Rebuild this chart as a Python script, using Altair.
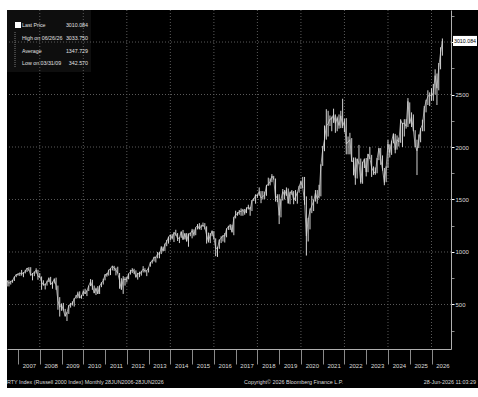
import altair as alt
import pandas as pd

FONT = "Liberation Sans, Arial, sans-serif"

# Russell 2000 monthly bars (Jun 2006 - Jun 2026): close, high, low
c2006 = [724.7, 700.6, 720.5, 725.6, 763.4, 782.6, 787.7]
h2006 = [731, 731, 725, 735, 766, 790, 797]
l2006 = [672, 672, 690, 707, 724, 760, 775]
c2007 = [800.3, 792.7, 800.7, 814.6, 847.2, 833.7, 776.1, 792.9, 805.5, 828.0, 767.8, 766.0]
h2007 = [802, 829, 808, 830, 848, 856, 855, 800, 815, 845, 830, 800]
l2007 = [772, 775, 760, 796, 810, 820, 776, 730, 770, 795, 735, 755]
c2008 = [713.3, 686.2, 688.0, 714.6, 748.3, 689.7, 709.4, 739.5, 679.6, 537.5, 473.1, 499.5]
h2008 = [767, 730, 700, 726, 757, 763, 717, 749, 756, 680, 570, 510]
l2008 = [640, 680, 643, 680, 714, 688, 650, 700, 640, 450, 385, 440]
c2009 = [443.5, 389.0, 422.8, 487.6, 501.6, 508.3, 557.2, 572.1, 604.3, 562.8, 579.7, 625.4]
h2009 = [515, 458, 430, 495, 515, 530, 560, 590, 622, 625, 590, 635]
l2009 = [440, 385, 342.6, 410, 470, 490, 480, 555, 560, 560, 555, 580]
c2010 = [602.0, 628.6, 678.6, 716.6, 669.0, 609.5, 650.9, 602.1, 676.1, 703.4, 727.0, 783.7]
h2010 = [650, 635, 680, 742, 735, 680, 660, 675, 680, 712, 745, 790]
l2010 = [600, 580, 628, 675, 640, 607, 590, 600, 600, 665, 690, 730]
c2011 = [781.3, 823.5, 843.6, 865.3, 848.3, 827.4, 797.0, 726.8, 644.2, 741.7, 737.4, 740.9]
h2011 = [800, 832, 845, 869, 868, 850, 860, 800, 750, 770, 760, 765]
l2011 = [765, 775, 780, 825, 820, 777, 795, 650, 640, 601, 680, 710]
c2012 = [792.8, 810.9, 830.3, 816.9, 761.8, 798.5, 786.9, 812.1, 837.5, 818.7, 821.9, 849.4]
h2012 = [795, 830, 846, 840, 825, 800, 812, 820, 865, 845, 825, 852]
l2012 = [740, 785, 800, 790, 755, 737, 760, 775, 805, 805, 770, 805]
c2013 = [902.1, 911.1, 951.5, 947.5, 984.1, 977.5, 1045.3, 1010.9, 1073.8, 1100.2, 1142.9, 1163.6]
h2013 = [905, 925, 954, 955, 1000, 1000, 1055, 1050, 1080, 1115, 1145, 1165]
l2013 = [860, 890, 910, 900, 940, 940, 980, 1005, 1010, 1055, 1080, 1110]
c2014 = [1130.9, 1183.0, 1173.0, 1126.9, 1134.5, 1193.0, 1120.1, 1174.4, 1101.7, 1173.5, 1173.2, 1204.7]
h2014 = [1170, 1190, 1212, 1180, 1140, 1195, 1210, 1180, 1180, 1175, 1185, 1220]
l2014 = [1120, 1095, 1155, 1105, 1085, 1135, 1115, 1120, 1100, 1050, 1150, 1130]
c2015 = [1165.4, 1233.4, 1252.8, 1220.1, 1246.5, 1253.9, 1238.7, 1159.5, 1100.7, 1161.9, 1198.1, 1135.9]
h2015 = [1215, 1235, 1266, 1275, 1260, 1280, 1275, 1245, 1185, 1180, 1205, 1200]
l2015 = [1150, 1160, 1215, 1215, 1210, 1240, 1215, 1080, 1090, 1085, 1150, 1120]
c2016 = [1035.4, 1033.9, 1114.0, 1130.8, 1154.8, 1151.9, 1219.9, 1239.9, 1251.7, 1191.4, 1322.3, 1357.1]
h2016 = [1130, 1050, 1120, 1150, 1160, 1180, 1225, 1250, 1265, 1260, 1335, 1393]
l2016 = [960, 953, 1030, 1085, 1100, 1090, 1140, 1210, 1210, 1185, 1160, 1320]
c2017 = [1361.8, 1386.7, 1385.9, 1400.4, 1370.2, 1415.4, 1425.1, 1405.3, 1490.9, 1502.8, 1544.1, 1535.5]
h2017 = [1380, 1400, 1415, 1410, 1410, 1425, 1450, 1430, 1495, 1515, 1548, 1550]
l2017 = [1345, 1355, 1345, 1345, 1355, 1370, 1405, 1345, 1390, 1485, 1460, 1515]
c2018 = [1575.0, 1512.5, 1529.4, 1541.9, 1633.6, 1643.1, 1670.8, 1722.6, 1696.6, 1511.4, 1533.3, 1348.6]
h2018 = [1615, 1580, 1580, 1575, 1640, 1708, 1700, 1742, 1725, 1700, 1550, 1550]
l2018 = [1535, 1465, 1500, 1505, 1535, 1630, 1635, 1665, 1690, 1480, 1475, 1266]
c2019 = [1499.4, 1575.6, 1540.2, 1591.2, 1465.5, 1566.6, 1574.6, 1494.8, 1523.4, 1562.5, 1624.5, 1668.5]
h2019 = [1505, 1600, 1590, 1615, 1605, 1575, 1590, 1580, 1590, 1570, 1630, 1680]
l2019 = [1330, 1490, 1500, 1535, 1460, 1455, 1545, 1455, 1485, 1460, 1565, 1600]
c2020 = [1614.1, 1476.4, 1153.1, 1310.7, 1394.0, 1441.4, 1480.4, 1561.9, 1507.7, 1538.5, 1819.8, 1974.9]
h2020 = [1715, 1715, 1530, 1325, 1415, 1535, 1500, 1590, 1590, 1640, 1835, 2010]
l2020 = [1610, 1450, 966, 1100, 1215, 1370, 1390, 1480, 1460, 1510, 1530, 1820]
c2021 = [2073.6, 2201.1, 2220.5, 2266.5, 2269.0, 2310.6, 2226.2, 2273.8, 2204.4, 2297.2, 2198.9, 2245.3]
h2021 = [2205, 2360, 2345, 2300, 2290, 2365, 2310, 2290, 2310, 2345, 2460, 2270]
l2021 = [1960, 2070, 2100, 2200, 2150, 2230, 2135, 2150, 2175, 2180, 2180, 2140]
c2022 = [2028.5, 2048.1, 2070.1, 1864.1, 1864.0, 1708.0, 1885.2, 1844.1, 1664.7, 1846.9, 1886.6, 1761.3]
h2022 = [2275, 2100, 2135, 2085, 1900, 1900, 1890, 2020, 1890, 1860, 1890, 1895]
l2022 = [1930, 1930, 1930, 1860, 1730, 1640, 1700, 1835, 1650, 1650, 1800, 1720]
c2023 = [1931.9, 1897.0, 1802.5, 1769.0, 1749.7, 1888.7, 1986.9, 1888.3, 1785.1, 1662.3, 1809.0, 2027.1]
h2023 = [1935, 2000, 1925, 1815, 1805, 1895, 1990, 1990, 1920, 1800, 1815, 2067]
l2023 = [1760, 1885, 1715, 1735, 1735, 1750, 1875, 1830, 1775, 1636, 1665, 1800]
c2024 = [1947.3, 2054.8, 2124.6, 1973.9, 2070.1, 2047.7, 2254.5, 2218.0, 2230.0, 2196.7, 2434.7, 2230.2]
h2024 = [2025, 2060, 2130, 2125, 2110, 2090, 2265, 2230, 2265, 2265, 2466, 2425]
l2024 = [1900, 1925, 2035, 1940, 1975, 2005, 2040, 2000, 2100, 2175, 2190, 2220]
c2025 = [2287.7, 2163.1, 2011.9, 1964.1, 2066.3, 2175.0, 2211.6, 2366.4, 2436.5, 2479.4, 2500.4, 2481.9]
h2025 = [2330, 2310, 2160, 2070, 2120, 2180, 2260, 2390, 2450, 2540, 2520, 2560]
l2025 = [2190, 2150, 2000, 1733, 1990, 2045, 2150, 2150, 2330, 2400, 2390, 2440]
c2026 = [2520, 2680, 2560, 2760, 2900, 3010.084]
h2026 = [2600, 2740, 2700, 2800, 2950, 3033.75]
l2026 = [2440, 2500, 2400, 2540, 2740, 2870]

closes = c2006 + c2007 + c2008 + c2009 + c2010 + c2011 + c2012 + c2013 + c2014 + c2015 + c2016 + c2017 + c2018 + c2019 + c2020 + c2021 + c2022 + c2023 + c2024 + c2025 + c2026
highs = h2006 + h2007 + h2008 + h2009 + h2010 + h2011 + h2012 + h2013 + h2014 + h2015 + h2016 + h2017 + h2018 + h2019 + h2020 + h2021 + h2022 + h2023 + h2024 + h2025 + h2026
lows = l2006 + l2007 + l2008 + l2009 + l2010 + l2011 + l2012 + l2013 + l2014 + l2015 + l2016 + l2017 + l2018 + l2019 + l2020 + l2021 + l2022 + l2023 + l2024 + l2025 + l2026

months = pd.period_range("2006-06", "2026-06", freq="M")
t = [p.year + p.month / 12 for p in months]

tick_years = list(range(2007, 2027))
grid_years = list(range(2008, 2027, 2))
grid_values = [500, 1000, 1500, 2000, 2500, 3000]
y_ticks = list(range(250, 3301, 250))

legend_labels = ["Last Price", "High on 06/26/26", "Average", "Low on 03/31/09"]
legend_values = ["3010.084", "3033.750", "1347.729", "342.570"]
last_price = 3010.084
footer_left = "RTY Index (Russell 2000 Index) Monthly 28JUN2006-28JUN2026"
footer_mid = "Copyright\u00a9 2026 Bloomberg Finance L.P."
footer_right = "28-Jun-2026 11:03:29"

W, H = 444, 339
df = pd.DataFrame({"t": t, "close": closes, "high": highs, "low": lows})

xs = alt.Scale(domain=[2006.494, 2026.896], nice=False, zero=False)
ys = alt.Scale(domain=[76, 3305], nice=False, zero=False)

x_axis = alt.Axis(values=tick_years, format="d", labelOffset=10.9, grid=False,
                  tickSize=15, tickColor="#8a8a8a", domainColor="#b0b0b0",
                  labelColor="#dcdcdc", labelFontSize=6, labelFont=FONT,
                  labelPadding=-2, title=None, labelFlush=False, labelOverlap=False)
y_axis = alt.Axis(orient="right", values=y_ticks,
                  labelExpr="(datum.value % 500 == 0 && datum.value <= 2500) ? datum.label : ''",
                  format="d", tickSize=3,
                  tickColor={"condition": {"test": "datum.value % 500 == 0", "value": "white"},
                             "value": "#8a8a8a"},
                  domainColor="#b0b0b0", labelColor="#dcdcdc", labelFontSize=6,
                  labelFont=FONT, labelPadding=1, title=None, grid=False,
                  labelOverlap=False)

one = pd.DataFrame({"a": [0]})

# white outer margins
m_top = alt.Chart(one).mark_rect(color="white").encode(
    x=alt.value(-7), x2=alt.value(W + 27), y=alt.value(-10), y2=alt.value(0))
m_left = alt.Chart(one).mark_rect(color="white").encode(
    x=alt.value(-7), x2=alt.value(0), y=alt.value(-10), y2=alt.value(H + 48))
m_bot = alt.Chart(one).mark_rect(color="white").encode(
    x=alt.value(-7), x2=alt.value(W + 27), y=alt.value(H + 39), y2=alt.value(H + 48))

hgrid = alt.Chart(pd.DataFrame({"v": grid_values})).mark_rule(
    color="#5a5a5a", strokeDash=[1, 2], strokeWidth=1).encode(
    y=alt.Y("v:Q", scale=ys, axis=y_axis))
vgrid = alt.Chart(pd.DataFrame({"yr": grid_years})).mark_rule(
    color="#5a5a5a", strokeDash=[1, 2], strokeWidth=1).encode(
    x=alt.X("yr:Q", scale=xs, axis=x_axis))

legend_bg = alt.Chart(one).mark_rect(color="#0e0e0e").encode(
    x=alt.value(0), x2=alt.value(84), y=alt.value(0), y2=alt.value(62))

bars = alt.Chart(df).mark_rule(color="#d2d2d2", strokeWidth=1).encode(
    x=alt.X("t:Q", scale=xs, axis=x_axis),
    y=alt.Y("low:Q", scale=ys, axis=y_axis),
    y2="high:Q")

line = alt.Chart(df).mark_line(color="#d8d8d8", strokeWidth=0.7).encode(
    x=alt.X("t:Q", scale=xs, axis=x_axis), y=alt.Y("close:Q", scale=ys, axis=y_axis))

layers = [m_top, m_left, m_bot, legend_bg, hgrid, vgrid, bars, line]

# legend
layers.append(alt.Chart(one).mark_square(color="white", size=36, opacity=1, filled=True).encode(
    x=alt.value(11), y=alt.value(15)))
layers.append(alt.Chart(one).mark_rule(color="#777777", strokeDash=[1, 1]).encode(
    x=alt.value(8), y=alt.value(22), y2=alt.value(57)))
row_y = [15, 28, 41, 53]
for lab, val, ry in zip(legend_labels, legend_values, row_y):
    layers.append(alt.Chart(one).mark_text(
        text=lab, align="left", baseline="middle", color="#e0e0e0", font=FONT, fontSize=5.3).encode(
        x=alt.value(15), y=alt.value(ry)))
    layers.append(alt.Chart(one).mark_text(
        text=val, align="right", baseline="middle", color="#e0e0e0", font=FONT, fontSize=5.3).encode(
        x=alt.value(81), y=alt.value(ry)))

# last price box
lp = pd.DataFrame({"v": [last_price], "s": ["3010.084"]})
layers.append(alt.Chart(lp).mark_point(
    shape="M-1,-0.42L1,-0.42L1,0.42L-1,0.42Z", filled=True, color="white", size=576, opacity=1).encode(
    x=alt.value(W + 14), y=alt.Y("v:Q", scale=ys, axis=y_axis)))
layers.append(alt.Chart(lp).mark_text(
    align="center", baseline="middle", color="black", font=FONT, fontSize=5.3).encode(
    x=alt.value(W + 14), y=alt.Y("v:Q", scale=ys, axis=y_axis), text="s:N"))

# footer
layers.append(alt.Chart(one).mark_text(
    text=footer_left, align="left", baseline="middle", color="#dcdcdc", font=FONT, fontSize=5.4).encode(
    x=alt.value(0), y=alt.value(H + 33)))
layers.append(alt.Chart(one).mark_text(
    text=footer_mid, align="left", baseline="middle", color="#dcdcdc", font=FONT, fontSize=5.4).encode(
    x=alt.value(237), y=alt.value(H + 33)))
layers.append(alt.Chart(one).mark_text(
    text=footer_right, align="right", baseline="middle", color="#dcdcdc", font=FONT, fontSize=5.4).encode(
    x=alt.value(W + 25), y=alt.value(H + 33)))

chart = alt.layer(*layers).properties(
    width=W, height=H,
    autosize=alt.AutoSizeParams(type="none"),
    padding={"left": 7, "top": 10, "right": 27, "bottom": 48},
    background="black",
).configure_view(stroke=None)

chart.save("out.html", embed_options={"renderer": "svg", "actions": False})
